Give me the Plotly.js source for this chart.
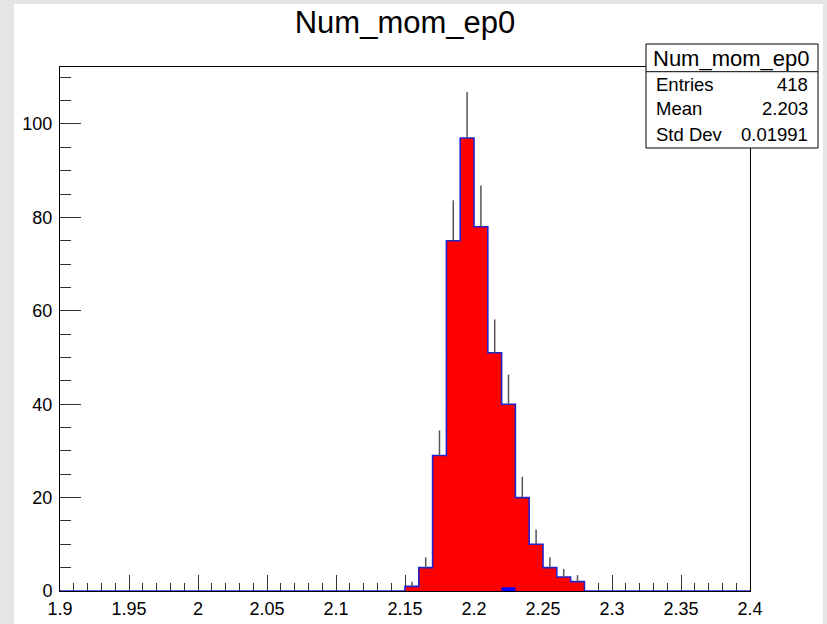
<!DOCTYPE html>
<html>
<head>
<meta charset="utf-8">
<script src="https://cdn.plot.ly/plotly-3.0.1.min.js"></script>
<style>
html,body{margin:0;padding:0;background:#e5e5e5;width:827px;height:624px;overflow:hidden;}
#plot{position:absolute;left:14px;top:4px;width:809px;height:620px;}
</style>
</head>
<body>
<div id="plot"></div>
<script>
// Histogram definition
var xMin = 1.9;
var xMax = 2.4;
var binWidth = 0.01;
// counts for the 50 bins from 1.90 to 2.40
var counts = [
  0,0,0,0,0, 0,0,0,0,0,
  0,0,0,0,0, 0,0,0,0,0,
  0,0,0,0,0, 1,5,29,75,97,
  78,51,40,20,10, 5,3,2,0,0,
  0,0,0,0,0, 0,0,0,0,0
];
// small blue overlay seen at the bottom of the 2.22-2.23 bin
var overlay = [
  0,0,0,0,0, 0,0,0,0,0,
  0,0,0,0,0, 0,0,0,0,0,
  0,0,0,0,0, 0,0,0,0,0,
  0,0,0.8,0,0, 0,0,0,0,0,
  0,0,0,0,0, 0,0,0,0,0
];
var histName = "Num_mom_ep0";
var statLabels = ["Entries", "Mean", "Std Dev"];
var statValues = ["418", "2.203", "0.01991"];
var xTickVals = [1.9,1.95,2,2.05,2.1,2.15,2.2,2.25,2.3,2.35,2.4];
var xTickText = ["1.9","1.95","2","2.05","2.1","2.15","2.2","2.25","2.3","2.35","2.4"];
var yTickVals = [0,20,40,60,80,100];
var yTickText = ["0","20","40","60","80","100"];
var yMax = 112.2;

var nb = counts.length;
var edges = [];
for (var i = 0; i <= nb; i++) edges.push(+(xMin + i*binWidth).toFixed(4));
function stepY(arr){ var y = arr.slice(); y.push(arr[arr.length-1]); return y; }

var centers = [], ev = [], eerr = [];
for (var i = 0; i < nb; i++) {
  if (counts[i] > 0) {
    centers.push(xMin + (i+0.5)*binWidth);
    ev.push(counts[i]);
    eerr.push(Math.sqrt(counts[i]));
  }
}

var traces = [
  {
    type:'scatter', mode:'lines', x: edges, y: stepY(counts),
    line:{shape:'hv', color:'#2222cc', width:1.6},
    fill:'tozeroy', fillcolor:'#ff0000', hoverinfo:'skip', showlegend:false
  },
  {
    type:'scatter', mode:'lines', x: edges, y: stepY(overlay),
    line:{shape:'hv', color:'#0000ff', width:0},
    fill:'tozeroy', fillcolor:'#0000ff', hoverinfo:'skip', showlegend:false
  },
  {
    type:'scatter', mode:'markers', x: centers, y: ev,
    marker:{size:1, color:'rgba(0,0,0,0)'},
    error_y:{type:'data', symmetric:false, array:eerr, arrayminus:eerr.map(function(){return 0;}),
             color:'#555555', thickness:1.5, width:0},
    hoverinfo:'skip', showlegend:false
  }
];

// plot area in page px: x 60..750, y 67..591
function px(pageX){ return (pageX-60)/690; }
function py(pageY){ return (591-pageY)/524; }

var shapes = [
  {type:'rect', xref:'paper', yref:'paper', x0:px(646), x1:px(818), y0:py(148), y1:py(44),
   fillcolor:'#ffffff', line:{color:'#000000', width:1}, layer:'above'},
  {type:'line', xref:'paper', yref:'paper', x0:px(646), x1:px(818), y0:py(71.7), y1:py(71.7),
   line:{color:'#000000', width:1}, layer:'above'}
];

var statFont = {family:'Liberation Sans, Arial, sans-serif', size:18.5, color:'#000'};
var annotations = [
  {xref:'paper', yref:'paper', x:px(731), y:py(58), text:histName, showarrow:false,
   xanchor:'center', yanchor:'middle', font:{family:'Liberation Sans, Arial, sans-serif', size:22, color:'#000'}}
];
var rowY = [84, 109, 134];
for (var k = 0; k < statLabels.length; k++) {
  annotations.push({xref:'paper', yref:'paper', x:px(654), y:py(rowY[k]), text:statLabels[k], showarrow:false,
    xanchor:'left', yanchor:'middle', font:statFont});
  annotations.push({xref:'paper', yref:'paper', x:px(810), y:py(rowY[k]), text:statValues[k], showarrow:false,
    xanchor:'right', yanchor:'middle', font:statFont});
}

var axisFont = {family:'Liberation Sans, Arial, sans-serif', size:18, color:'#000'};
var layout = {
  width:809, height:620,
  margin:{l:46, r:73, t:63, b:33, pad:0},
  paper_bgcolor:'#ffffff', plot_bgcolor:'#ffffff',
  title:{text:histName, x:(405-14)/809, xanchor:'center', y:1-18/620, yanchor:'middle',
         font:{family:'Liberation Sans, Arial, sans-serif', size:31, color:'#000'}},
  showlegend:false,
  xaxis:{range:[xMin,xMax], tickvals:xTickVals, ticktext:xTickText, ticks:'inside', ticklen:16, tickwidth:1,
         tickcolor:'#333', showgrid:false, zeroline:false, showline:true, mirror:true, linecolor:'#000', linewidth:1,
         tickfont:axisFont, layer:'below traces', ticklabelstandoff:1,
         minor:{dtick:binWidth, tick0:xMin, ticks:'inside', ticklen:8, tickwidth:1, tickcolor:'#333', showgrid:false}},
  yaxis:{range:[0,yMax], tickvals:yTickVals, ticktext:yTickText, ticks:'inside', ticklen:21, tickwidth:1,
         tickcolor:'#333', showgrid:false, zeroline:false, showline:true, mirror:true, linecolor:'#000', linewidth:1,
         tickfont:axisFont, layer:'below traces', ticklabelstandoff:3,
         minor:{dtick:5, tick0:0, ticks:'inside', ticklen:10.5, tickwidth:1, tickcolor:'#333', showgrid:false}},
  shapes:shapes, annotations:annotations
};

Plotly.newPlot('plot', traces, layout, {displayModeBar:false, staticPlot:true});
</script>
</body>
</html>
